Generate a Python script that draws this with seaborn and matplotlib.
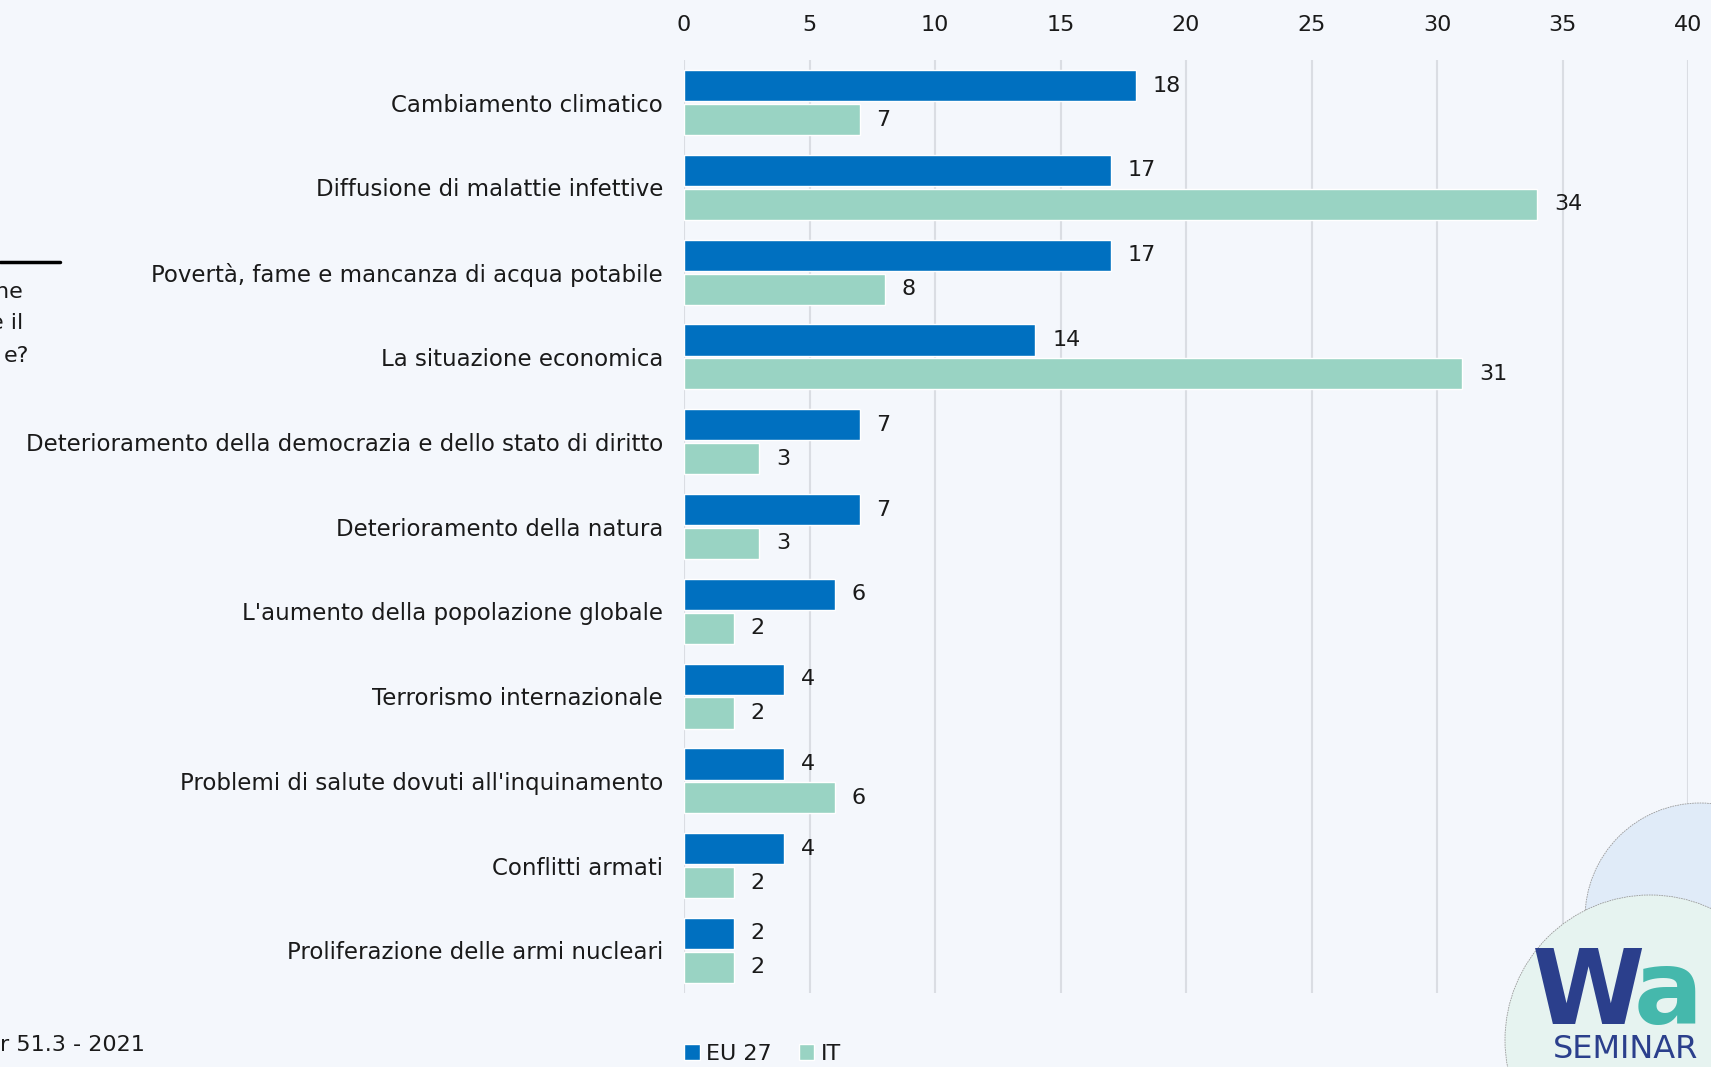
import pandas as pd
import matplotlib.pyplot as plt
import seaborn as sns
from matplotlib.patches import Ellipse
from matplotlib.lines import Line2D

categories = [
    "Cambiamento climatico",
    "Diffusione di malattie infettive",
    "Povertà, fame e mancanza di acqua potabile",
    "La situazione economica",
    "Deterioramento della democrazia e dello stato di diritto",
    "Deterioramento della natura",
    "L'aumento della popolazione globale",
    "Terrorismo internazionale",
    "Problemi di salute dovuti all'inquinamento",
    "Conflitti armati",
    "Proliferazione delle armi nucleari",
]
eu27 = [18, 17, 17, 14, 7, 7, 6, 4, 4, 4, 2]
italy = [7, 34, 8, 31, 3, 3, 2, 2, 6, 2, 2]
series = ["EU 27", "IT"]
ticks = [0, 5, 10, 15, 20, 25, 30, 35, 40]

df = pd.DataFrame({
    "cat": categories * 2,
    "serie": [series[0]] * len(categories) + [series[1]] * len(categories),
    "val": eu27 + italy,
})

bg = "#F4F7FC"
W, H = 1711, 1067
sns.set_theme(style="white")
plt.rcParams['font.family'] = ['DejaVu Sans']
plt.rcParams['text.color'] = '#1a1a1a'

fig = plt.figure(figsize=(W / 100, H / 100), dpi=100, facecolor=bg)
ax = fig.add_axes([684 / W, 0.0695, (1688 - 684) / W, 0.9436 - 0.0695])
ax.set_facecolor(bg)

sns.barplot(data=df, y="cat", x="val", hue="serie", orient="h",
            palette=["#0070C0", "#99D3C3"], width=0.8, gap=0.08,
            order=categories, hue_order=series, ax=ax, legend=True,
            saturation=1)

for cont in ax.containers:
    ax.bar_label(cont, padding=12, fontsize=16, color="#1a1a1a")

ax.set_xlim(0, 40)
ax.set_xticks(ticks)
ax.xaxis.tick_top()
ax.tick_params(axis="x", length=0, labelsize=16, pad=18, labelcolor="#1a1a1a")
ax.tick_params(axis="y", length=0, labelsize=16.5, pad=15, labelcolor="#1a1a1a")
ax.grid(axis="x", color="#DADDE3", linewidth=1.5)
ax.set_axisbelow(True)
for s in ax.spines.values():
    s.set_visible(False)
ax.set_xlabel("")
ax.set_ylabel("")

handles, labels = ax.get_legend_handles_labels()
ax.get_legend().remove()
fig.legend(handles, labels, loc="center left", bbox_to_anchor=(664 / W, 1 - 1054 / H),
           ncol=2, frameon=False, fontsize=16, handlelength=0.7, handleheight=0.7,
           handletextpad=0.3, columnspacing=1.2)

# cropped side text
fig.add_artist(Line2D([0, 60 / W], [1 - 262 / H, 1 - 262 / H], color="black", lw=2.5,
                      transform=fig.transFigure))
for txt, xr, yc in [("ne", 23, 292), ("e il", 23, 323), ("e?", 29, 356)]:
    fig.text(xr / W, 1 - yc / H, txt, ha="right", va="center", fontsize=16)
fig.text(0, 1 - 1045 / H, "r 51.3 - 2021", ha="left", va="center", fontsize=16)

# logo fragment
fig.add_artist(Ellipse((1700 / W, 1 - 918 / H), 230 / W, 230 / H, transform=fig.transFigure,
                       facecolor="#E0EBF8", edgecolor="#9a9a9a", lw=0.6, ls=(0, (2, 1))))
fig.add_artist(Ellipse((1650 / W, 1 - 1040 / H), 290 / W, 290 / H, transform=fig.transFigure,
                       facecolor="#E6F3F0", edgecolor="#9a9a9a", lw=0.6, ls=(0, (2, 1))))
fig.text(1532 / W, 1 - 1024 / H, "W", fontsize=74, fontweight="bold", color="#2B3F8C",
         va="baseline", ha="left")
fig.text(1634 / W, 1 - 1024 / H, "a", fontsize=74, fontweight="bold", color="#45B8AC",
         va="baseline", ha="left")
fig.text(1553 / W, 1 - 1058 / H, "SEMINAR", fontsize=23, color="#2B3F8C",
         va="baseline", ha="left")

fig.savefig("out.png", dpi=100, facecolor=bg)
